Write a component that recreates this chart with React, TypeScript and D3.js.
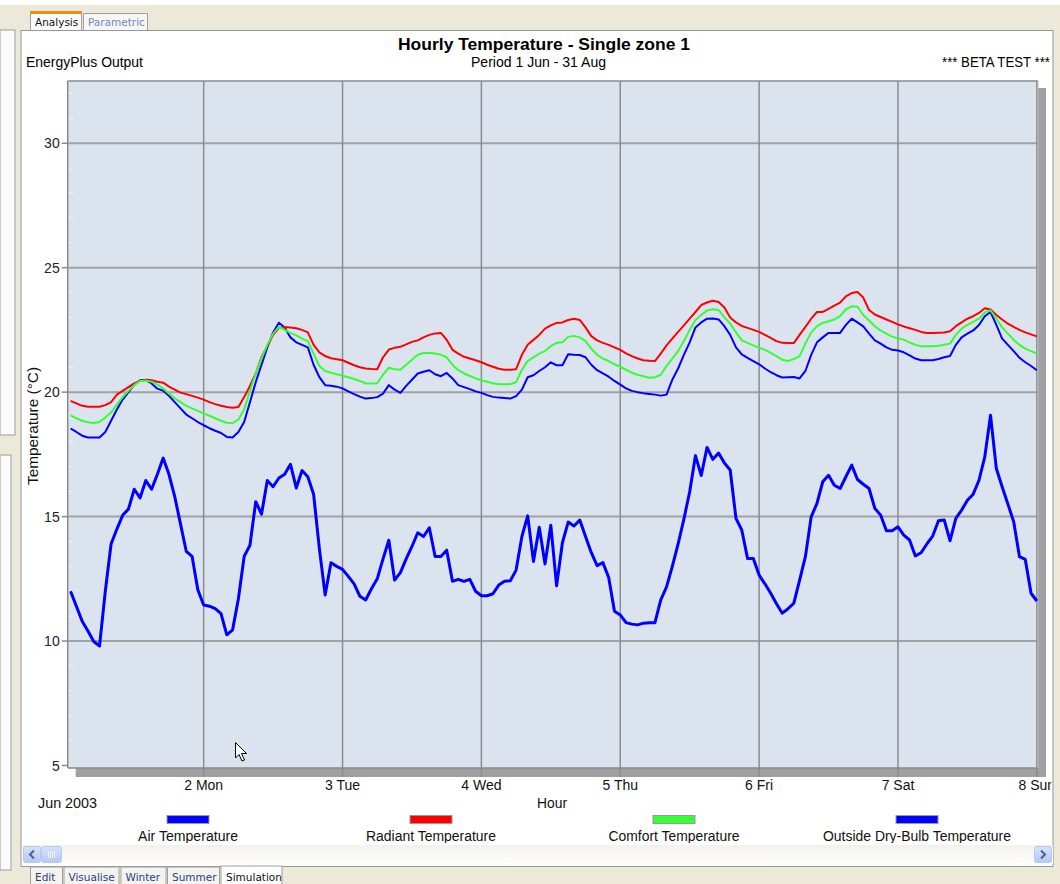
import React from "react";
import * as d3 from "d3";

// ---------- DATA ----------
const dayLabels = ["2 Mon", "3 Tue", "4 Wed", "5 Thu", "6 Fri", "7 Sat", "8 Sun"];
const dayHours = [24, 48, 72, 96, 120, 144, 168];
const yTicks = [5, 10, 15, 20, 25, 30];
const seriesNames = ["Air Temperature", "Radiant Temperature", "Comfort Temperature", "Outside Dry-Bulb Temperature"];

const airTemp = [
  18.54, 18.4, 18.25, 18.18, 18.18, 18.18, 18.4, 18.85, 19.3, 19.7, 20.0, 20.3, 20.48, 20.48, 20.35, 20.14, 20.06, 19.85, 19.6, 19.35, 19.1, 18.95, 18.8, 18.67,
  18.55, 18.45, 18.36, 18.2, 18.18, 18.4, 18.8, 19.6, 20.4, 21.1, 21.8, 22.4, 22.79, 22.6, 22.2, 22.0, 21.9, 21.8, 21.1, 20.6, 20.28, 20.26, 20.22, 20.15,
  20.03, 19.92, 19.82, 19.74, 19.76, 19.8, 19.94, 20.28, 20.1, 19.97, 20.25, 20.5, 20.75, 20.82, 20.88, 20.72, 20.64, 20.77, 20.55, 20.28, 20.2, 20.12, 20.03, 19.97,
  19.88, 19.81, 19.78, 19.76, 19.74, 19.84, 20.1, 20.6, 20.68, 20.85, 21.0, 21.2, 21.08, 21.08, 21.52, 21.5, 21.49, 21.4, 21.1, 20.88, 20.75, 20.62, 20.45, 20.3,
  20.15, 20.05, 20.0, 19.96, 19.93, 19.9, 19.86, 19.9, 20.5, 20.95, 21.5, 22.0, 22.6, 22.8, 22.95, 22.96, 22.92, 22.65, 22.3, 21.8, 21.52, 21.38, 21.25, 21.12,
  20.95, 20.8, 20.68, 20.59, 20.6, 20.61, 20.55, 20.85, 21.5, 22.0, 22.2, 22.38, 22.38, 22.38, 22.7, 22.95, 22.8, 22.64, 22.35, 22.08, 21.95, 21.8, 21.7, 21.67,
  21.6, 21.48, 21.35, 21.28, 21.28, 21.28, 21.33, 21.4, 21.45, 21.9, 22.2, 22.35, 22.48, 22.7, 23.05, 23.22, 22.7, 22.15, 21.9, 21.65, 21.38, 21.2, 21.05, 20.88,
];

const radiantTemp = [
  19.65, 19.55, 19.45, 19.41, 19.41, 19.41, 19.48, 19.6, 19.9, 20.05, 20.2, 20.35, 20.45, 20.5, 20.48, 20.42, 20.38, 20.22, 20.1, 19.98, 19.92, 19.85, 19.78, 19.7,
  19.6, 19.52, 19.45, 19.4, 19.37, 19.4, 19.8, 20.25, 20.75, 21.4, 21.85, 22.3, 22.58, 22.62, 22.6, 22.57, 22.5, 22.4, 21.9, 21.6, 21.45, 21.36, 21.32, 21.28,
  21.18, 21.08, 21.0, 20.95, 20.93, 20.92, 21.4, 21.71, 21.78, 21.82, 21.92, 22.02, 22.08, 22.2, 22.3, 22.36, 22.38, 22.1, 21.7, 21.55, 21.42, 21.35, 21.28, 21.2,
  21.1, 21.02, 20.94, 20.9, 20.9, 20.92, 21.5, 21.9, 22.1, 22.3, 22.55, 22.68, 22.78, 22.8, 22.9, 22.95, 22.9, 22.6, 22.25, 22.08, 21.98, 21.9, 21.8, 21.7,
  21.56, 21.45, 21.35, 21.28, 21.26, 21.25, 21.55, 21.88, 22.15, 22.42, 22.68, 22.95, 23.22, 23.5, 23.6, 23.67, 23.62, 23.4, 23.0, 22.8, 22.66, 22.58, 22.5, 22.42,
  22.3, 22.18, 22.05, 21.98, 21.97, 21.97, 22.3, 22.62, 22.95, 23.22, 23.22, 23.35, 23.48, 23.6, 23.85, 23.98, 24.02, 23.8, 23.3, 23.12, 23.02, 22.92, 22.82, 22.72,
  22.64, 22.57, 22.5, 22.42, 22.38, 22.38, 22.39, 22.4, 22.45, 22.65, 22.8, 22.95, 23.05, 23.18, 23.37, 23.32, 23.1, 22.92, 22.75, 22.62, 22.5, 22.4, 22.32, 22.24,
];

const comfortTemp = [
  19.07, 18.95, 18.85, 18.79, 18.76, 18.8, 18.98, 19.18, 19.5, 19.8, 20.05, 20.28, 20.45, 20.46, 20.42, 20.3, 20.15, 19.95, 19.75, 19.6, 19.45, 19.35, 19.25, 19.15,
  19.05, 18.95, 18.85, 18.77, 18.75, 18.9, 19.3, 20.05, 20.75, 21.35, 21.9, 22.35, 22.62, 22.5, 22.38, 22.28, 22.15, 22.05, 21.55, 21.05, 20.85, 20.78, 20.72, 20.66,
  20.6, 20.53, 20.45, 20.35, 20.35, 20.36, 20.7, 20.98, 20.92, 20.9, 21.1, 21.3, 21.5, 21.57, 21.57, 21.55, 21.5, 21.4, 21.1, 20.88, 20.75, 20.65, 20.55, 20.48,
  20.42, 20.36, 20.32, 20.32, 20.32, 20.4, 20.9, 21.25, 21.4, 21.55, 21.65, 21.85, 21.98, 22.0, 22.22, 22.26, 22.2, 22.05, 21.75, 21.5, 21.35, 21.25, 21.12, 21.02,
  20.9, 20.78, 20.7, 20.64, 20.58, 20.6, 20.7, 21.05, 21.35, 21.65, 22.05, 22.5, 22.9, 23.1, 23.28, 23.33, 23.3, 23.0, 22.75, 22.4, 22.08, 21.98, 21.88, 21.79,
  21.7, 21.58, 21.45, 21.3, 21.25, 21.33, 21.45, 21.95, 22.4, 22.65, 22.78, 22.85, 22.92, 23.05, 23.33, 23.45, 23.43, 23.1, 22.88, 22.65, 22.47, 22.35, 22.23, 22.16,
  22.11, 22.0, 21.9, 21.84, 21.84, 21.84, 21.86, 21.9, 21.95, 22.3, 22.55, 22.7, 22.82, 22.95, 23.2, 23.29, 22.95, 22.6, 22.35, 22.1, 21.9, 21.75, 21.65, 21.55,
];

const outsideTemp = [
  12.0, 11.4, 10.8, 10.4, 9.98, 9.8, 12.0, 13.9, 14.5, 15.05, 15.3, 16.1, 15.75, 16.45, 16.1, 16.7, 17.35, 16.7, 15.8, 14.7, 13.6, 13.4, 12.05, 11.45,
  11.4, 11.3, 11.1, 10.25, 10.45, 11.7, 13.4, 13.85, 15.6, 15.1, 16.45, 16.2, 16.55, 16.7, 17.1, 16.15, 16.85, 16.6, 15.9, 13.7, 11.85, 13.15, 13.0, 12.88,
  12.6, 12.3, 11.8, 11.65, 12.1, 12.5, 13.3, 14.05, 12.45, 12.75, 13.3, 13.8, 14.35, 14.2, 14.55, 13.4, 13.4, 13.65, 12.4, 12.48, 12.4, 12.48, 12.0, 11.82,
  11.82, 11.9, 12.25, 12.4, 12.42, 12.85, 14.2, 15.03, 13.2, 14.57, 13.1, 14.65, 12.22, 13.95, 14.78, 14.62, 14.86, 14.2, 13.55, 13.03, 13.15, 12.55, 11.2, 11.05,
  10.74, 10.68, 10.65, 10.72, 10.74, 10.74, 11.65, 12.18, 13.0, 13.9, 14.9, 16.0, 17.45, 16.65, 17.78, 17.3, 17.55, 17.15, 16.87, 14.93, 14.46, 13.32, 13.32, 12.65,
  12.3, 11.92, 11.5, 11.12, 11.3, 11.52, 12.45, 13.39, 14.99, 15.53, 16.4, 16.66, 16.26, 16.13, 16.6, 17.07, 16.49, 16.3, 16.13, 15.33, 15.06, 14.43, 14.43, 14.59,
  14.26, 14.06, 13.42, 13.55, 13.9, 14.22, 14.83, 14.86, 14.03, 14.93, 15.26, 15.66, 15.9, 16.46, 17.4, 19.07, 16.93, 16.2, 15.5, 14.79, 13.39, 13.28, 11.92, 11.61,
];

// ---------- LAYOUT ----------
const W = 1060;
const H = 884;
const plot = { left: 67.7, top: 81, right: 1038, bottom: 768 };
const FONT = "Liberation Sans, Arial, sans-serif";

const series = [
  { name: seriesNames[0], values: airTemp, color: "#0000ff", width: 2 },
  { name: seriesNames[1], values: radiantTemp, color: "#ff0000", width: 2 },
  { name: seriesNames[2], values: comfortTemp, color: "#33ff33", width: 2 },
  { name: seriesNames[3], values: outsideTemp, color: "#0000ff", width: 3 },
];

export default function App() {
  const x = d3.scaleLinear().domain([0.5, 168.2]).range([plot.left, plot.right]);
  const y = d3.scaleLinear().domain([4.9, 32.5]).range([plot.bottom, plot.top]);
  const line = d3
    .line<number>()
    .x((_, i) => x(i + 1))
    .y((d) => y(d));

  const minorTicks = d3.range(5, 33, 1).filter((v) => v % 5 !== 0);
  const legendCenters = [188, 431, 674, 917];
  const legendWidths = [100, 130, 131, 188];

  return (
    <svg
      width={W}
      height={H}
      viewBox={`0 0 ${W} ${H}`}
      style={{ position: "absolute", left: 0, top: 0, fontFamily: FONT }}
    >
      <defs>
        <clipPath id="plotClip">
          <rect x={plot.left} y={plot.top} width={plot.right - plot.left} height={plot.bottom - plot.top} />
        </clipPath>
        <clipPath id="panelClip">
          <rect x={22} y={31} width={1029.5} height={812} />
        </clipPath>
        <linearGradient id="scrollGrad" x1="0" y1="0" x2="0" y2="1">
          <stop offset="0" stopColor="#f3f1ea" />
          <stop offset="1" stopColor="#fefefe" />
        </linearGradient>
        <linearGradient id="btnGrad" x1="0" y1="0" x2="0" y2="1">
          <stop offset="0" stopColor="#d6e2fc" />
          <stop offset="1" stopColor="#b4c8f6" />
        </linearGradient>
      </defs>

      {/* window chrome */}
      <rect x={0} y={0} width={W} height={H} fill="#ece9d8" />
      <rect x={0} y={0} width={W} height={5} fill="#ffffff" />
      <rect x={0} y={30} width={15} height={405} fill="#fbfbfb" stroke="#9a9a9a" strokeWidth={1} />
      <rect x={0} y={455} width={11} height={415} fill="#fbfbfb" stroke="#9a9a9a" strokeWidth={1} />

      {/* top tabs */}
      <rect x={83.5} y={13.5} width={64} height={17} fill="#f7f6f1" stroke="#a0a0a0" />
      <text x={88} y={26} fontSize={10.5} fill="#6f86cf" fontFamily="DejaVu Sans, sans-serif">Parametric</text>
      <rect x={30.5} y={12.5} width={51} height={19} fill="#fcfcfe" stroke="#a0a0a0" />
      <rect x={30} y={11} width={52} height={3} fill="#f08c1c" />
      <text x={35} y={26} fontSize={10.5} fill="#111" fontFamily="DejaVu Sans, sans-serif">Analysis</text>

      {/* main panel */}
      <rect x={21} y={30.5} width={1032} height={836} fill="#ffffff" stroke="#8d9aa0" strokeWidth={1} />

      <g clipPath="url(#panelClip)">
        {/* titles */}
        <text x={544} y={50} fontSize={16} fontWeight="bold" textAnchor="middle" fill="#000" textLength={292} lengthAdjust="spacingAndGlyphs">
          Hourly Temperature - Single zone 1
        </text>
        <text x={26} y={67} fontSize={14} fill="#000" textLength={117} lengthAdjust="spacingAndGlyphs">EnergyPlus Output</text>
        <text x={538.5} y={67} fontSize={14} textAnchor="middle" fill="#000" textLength={135} lengthAdjust="spacingAndGlyphs">Period 1 Jun - 31 Aug</text>
        <text x={1050} y={67} fontSize={14} textAnchor="end" fill="#000" textLength={108} lengthAdjust="spacingAndGlyphs">*** BETA TEST ***</text>

        {/* shadow */}
        <rect x={plot.left + 8} y={plot.bottom} width={plot.right - plot.left} height={9} fill="#a0a0a0" />
        <rect x={plot.right} y={plot.top + 7} width={8} height={plot.bottom - plot.top + 2} fill="#a0a0a0" />

        {/* plot background */}
        <rect x={plot.left} y={plot.top} width={plot.right - plot.left} height={plot.bottom - plot.top} fill="#dae3ee" />

        {/* horizontal gridlines */}
        {yTicks.filter((v) => v > 5).map((v) => (
          <line key={"hg" + v} x1={plot.left} x2={plot.right} y1={y(v)} y2={y(v)} stroke="#a2a2a2" strokeWidth={2} />
        ))}
        {/* vertical gridlines */}
        {dayHours.map((h) => (
          <line key={"vg" + h} x1={x(h)} x2={x(h)} y1={plot.top} y2={plot.bottom + 9} stroke="#8c8c8c" strokeWidth={1.5} />
        ))}
        {/* minor ticks */}
        {minorTicks.map((v) => (
          <line key={"mt" + v} x1={plot.left + 1} x2={plot.left + 6} y1={y(v)} y2={y(v)} stroke="#f4f6f9" strokeWidth={1} />
        ))}

        {/* plot border */}
        <line x1={plot.left} x2={plot.left} y1={plot.top} y2={plot.bottom} stroke="#8a8a8a" strokeWidth={1.5} />
        <line x1={plot.left} x2={plot.right} y1={plot.top} y2={plot.top} stroke="#8a8a8a" strokeWidth={1.5} />
        <line x1={plot.left} x2={plot.right} y1={plot.bottom} y2={plot.bottom} stroke="#8a8a8a" strokeWidth={1.5} />
        <line x1={plot.right} x2={plot.right} y1={plot.top} y2={plot.bottom} stroke="#b5b5b5" strokeWidth={1} />

        {/* y axis ticks & labels */}
        {yTicks.map((v) => (
          <g key={"yt" + v}>
            <line x1={plot.left - 6} x2={plot.left} y1={y(v)} y2={y(v)} stroke="#8a8a8a" strokeWidth={1.5} />
            <text x={plot.left - 8} y={y(v) + 5} fontSize={14} textAnchor="end" fill="#222">{v}</text>
          </g>
        ))}
        <text
          transform={`translate(38, ${426}) rotate(-90)`}
          fontSize={14}
          textAnchor="middle"
          fill="#111"
          textLength={118}
          lengthAdjust="spacingAndGlyphs"
        >
          Temperature (°C)
        </text>

        {/* x labels */}
        {dayHours.map((h, i) => (
          <text key={"xl" + h} x={x(h)} y={790} fontSize={14} textAnchor="middle" fill="#111">
            {dayLabels[i]}
          </text>
        ))}
        <text x={38} y={808} fontSize={14} fill="#111" textLength={59} lengthAdjust="spacingAndGlyphs">Jun 2003</text>
        <text x={552} y={808} fontSize={14} textAnchor="middle" fill="#111" textLength={30} lengthAdjust="spacingAndGlyphs">Hour</text>

        {/* series */}
        <g clipPath="url(#plotClip)">
          {series.map((s) => (
            <path
              key={s.name + s.width}
              d={line(s.values) || ""}
              fill="none"
              stroke={s.color}
              strokeWidth={s.width}
              strokeLinejoin="round"
            />
          ))}
        </g>

        {/* legend */}
        {series.map((s, i) => (
          <g key={"lg" + i}>
            <rect x={legendCenters[i] - 21} y={815.5} width={42} height={8} fill={s.color} stroke="#9a9a9a" strokeWidth={1} />
            <text x={legendCenters[i]} y={841} fontSize={14} textAnchor="middle" fill="#111" textLength={legendWidths[i]} lengthAdjust="spacingAndGlyphs">{s.name}</text>
          </g>
        ))}

        {/* mouse cursor */}
        <path d="M235.5,742.5 L235.5,758 L239,754.5 L242,761 L244.5,760 L241.5,753.5 L246.5,753.5 Z" fill="#ffffff" stroke="#000" strokeWidth={1} />
      </g>

      {/* scrollbar */}
      <rect x={22} y={845} width={1031} height={19} fill="url(#scrollGrad)" />
      <rect x={23.5} y={846.5} width={17} height={16} rx={2} fill="url(#btnGrad)" stroke="#b8c9ef" />
      <path d="M34,850.5 L30,854.5 L34,858.5" fill="none" stroke="#4d6185" strokeWidth={2} />
      <rect x={41.5} y={846.5} width={20} height={16} rx={2} fill="url(#btnGrad)" stroke="#b8c9ef" />
      {[48, 50, 52, 54].map((gx) => (
        <line key={"g" + gx} x1={gx + 0.5} x2={gx + 0.5} y1={851} y2={858} stroke="#eef3fe" strokeWidth={1} />
      ))}
      <rect x={1034.5} y={846.5} width={17} height={16} rx={2} fill="url(#btnGrad)" stroke="#b8c9ef" />
      <path d="M1041,850.5 L1045,854.5 L1041,858.5" fill="none" stroke="#4d6185" strokeWidth={2} />
      <line x1={21} x2={1053} y1={866.5} y2={866.5} stroke="#8d9aa0" />

      {/* bottom tabs */}
      {[
        { x: 30, w: 32, t: "Edit" },
        { x: 63.5, w: 55, t: "Visualise" },
        { x: 120.5, w: 45, t: "Winter" },
        { x: 167, w: 52, t: "Summer" },
      ].map((tb) => (
        <g key={tb.t}>
          <rect x={tb.x + 0.5} y={867} width={tb.w} height={18} fill="#f4f3ee" stroke="#a0a0a0" />
          <text x={tb.x + 5} y={880.5} fontSize={10.5} fill="#1f3f8a" fontFamily="DejaVu Sans, sans-serif">{tb.t}</text>
        </g>
      ))}
      <rect x={221} y={866} width={61} height={19} fill="#ffffff" stroke="#a0a0a0" />
      <text x={226} y={880.5} fontSize={10.5} fill="#111" fontFamily="DejaVu Sans, sans-serif">Simulation</text>
    </svg>
  );
}
